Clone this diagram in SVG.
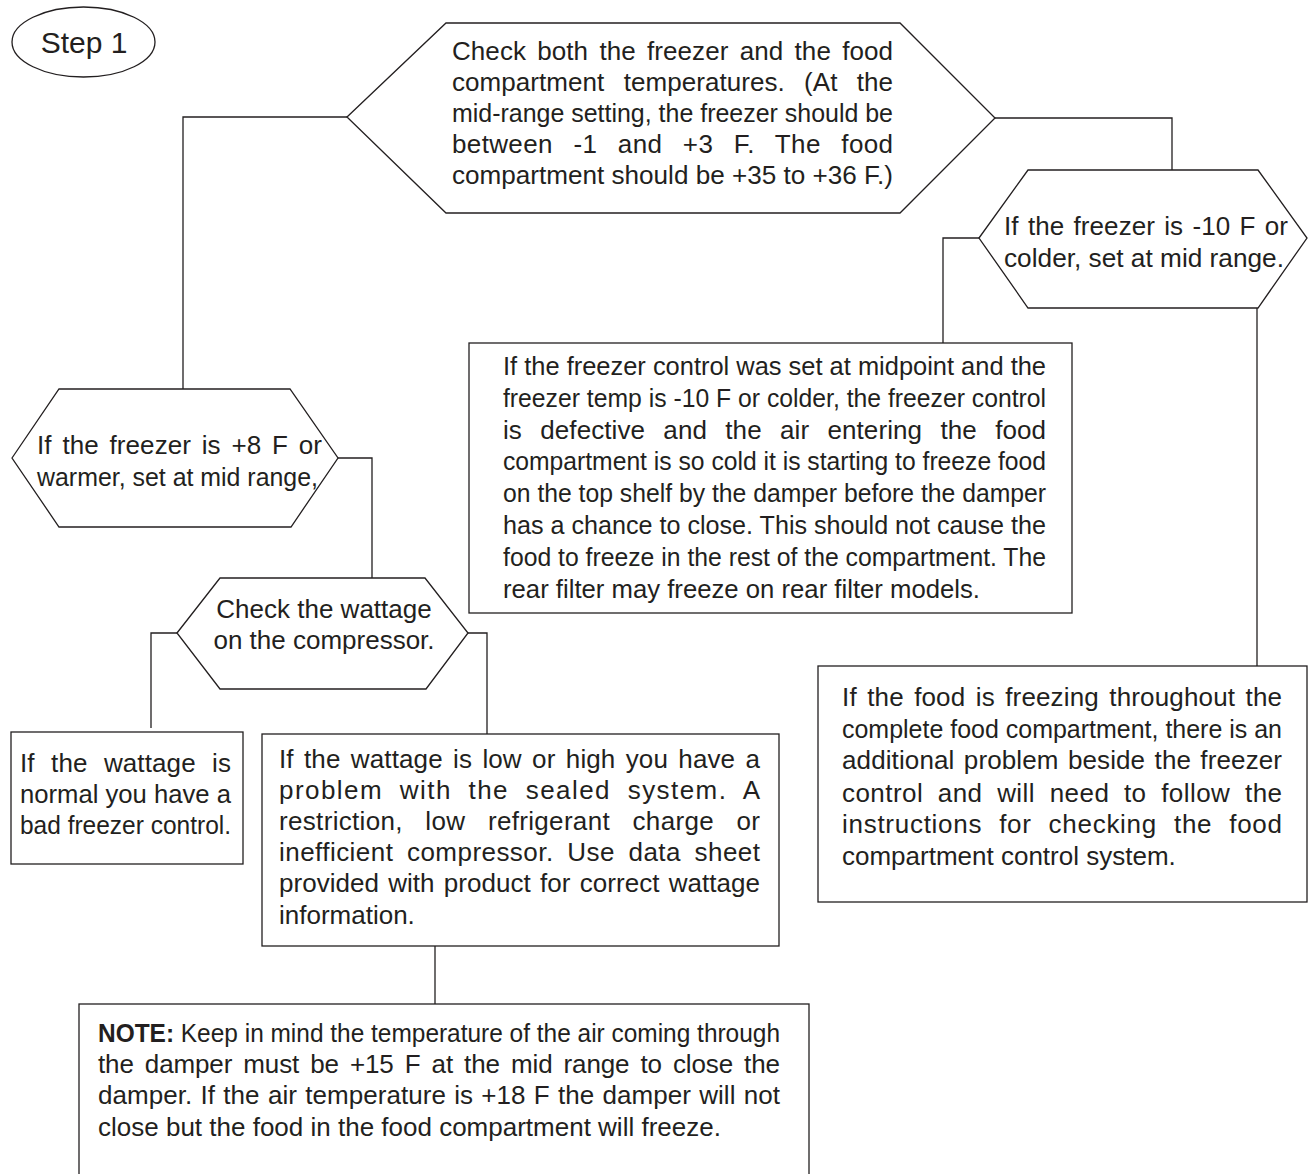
<svg xmlns="http://www.w3.org/2000/svg" width="1308" height="1174" viewBox="0 0 1308 1174">
<style>
.bg{fill:#fff}
.s{fill:#fff;stroke:#231f20;stroke-width:1.3}
.c{fill:none;stroke:#231f20;stroke-width:1.3}
.t{font-family:"Liberation Sans",Arial,Helvetica,sans-serif;font-size:26px;fill:#231f20}
.st{font-family:"Liberation Sans",Arial,Helvetica,sans-serif;font-size:30px;fill:#231f20}
.b{font-weight:bold}
</style>
<rect class="bg" x="0" y="0" width="1308" height="1174"/>
<g id="connectors">
<polyline class="c" points="347,117 183,117 183,389"/>
<polyline class="c" points="995,118 1172,118 1172,170"/>
<polyline class="c" points="979,238 943,238 943,343"/>
<polyline class="c" points="1257,308 1257,666"/>
<polyline class="c" points="338,458 372,458 372,578"/>
<polyline class="c" points="177,633 151,633 151,728"/>
<polyline class="c" points="468,633 487,633 487,734"/>
<polyline class="c" points="435,946 435,1004"/>
</g>
<g id="step1">
<ellipse class="s" cx="83.5" cy="42" rx="71.5" ry="35"/>
<text class="st" x="84" y="53" text-anchor="middle">Step 1</text>
</g>
<g id="check-temps">
<polygon class="s" points="347,117 446,23 900,23 995,118 900,213 446,213"/>
<text class="t" x="452" y="60" word-spacing="4" textLength="441" lengthAdjust="spacing">Check both the freezer and the food</text>
<text class="t" x="452" y="91" word-spacing="12" textLength="441" lengthAdjust="spacing">compartment temperatures. (At the</text>
<text class="t" x="452" y="122" textLength="441" lengthAdjust="spacingAndGlyphs">mid-range setting, the freezer should be</text>
<text class="t" x="452" y="153" word-spacing="13" textLength="441" lengthAdjust="spacing">between -1 and +3 F. The food</text>
<text class="t" x="452" y="184" textLength="441" lengthAdjust="spacingAndGlyphs">compartment should be +35 to +36 F.)</text>
</g>
<g id="freezer-cold">
<polygon class="s" points="979,238 1028,170 1258,170 1307,238 1258,308 1028,308"/>
<text class="t" x="1004" y="235" word-spacing="2" textLength="284" lengthAdjust="spacing">If the freezer is -10 F or</text>
<text class="t" x="1004" y="267" textLength="280" lengthAdjust="spacingAndGlyphs">colder, set at mid range.</text>
</g>
<g id="freezer-warm">
<polygon class="s" points="12,458 59,389 290,389 338,458 291,527 59,527"/>
<text class="t" x="37" y="454" word-spacing="3.5" textLength="285" lengthAdjust="spacing">If the freezer is +8 F or</text>
<text class="t" x="37" y="486" textLength="281" lengthAdjust="spacingAndGlyphs">warmer, set at mid range,</text>
</g>
<g id="check-wattage">
<polygon class="s" points="177,633 220,578 425,578 468,633 426,689 220,689"/>
<text class="t" x="324" y="618" text-anchor="middle">Check the wattage</text>
<text class="t" x="324" y="649" text-anchor="middle">on the compressor.</text>
</g>
<g id="control-defective">
<rect class="s" x="469" y="343" width="603" height="270"/>
<text class="t" x="503" y="375" textLength="543" lengthAdjust="spacingAndGlyphs">If the freezer control was set at midpoint and the</text>
<text class="t" x="503" y="407" textLength="543" lengthAdjust="spacingAndGlyphs">freezer temp is -10 F or colder, the freezer control</text>
<text class="t" x="503" y="439" word-spacing="11" textLength="543" lengthAdjust="spacing">is defective and the air entering the food</text>
<text class="t" x="503" y="470" textLength="543" lengthAdjust="spacingAndGlyphs">compartment is so cold it is starting to freeze food</text>
<text class="t" x="503" y="502" textLength="543" lengthAdjust="spacingAndGlyphs">on the top shelf by the damper before the damper</text>
<text class="t" x="503" y="534" textLength="543" lengthAdjust="spacingAndGlyphs">has a chance to close. This should not cause the</text>
<text class="t" x="503" y="566" textLength="543" lengthAdjust="spacingAndGlyphs">food to freeze in the rest of the compartment. The</text>
<text class="t" x="503" y="598" textLength="477" lengthAdjust="spacingAndGlyphs">rear filter may freeze on rear filter models.</text>
</g>
<g id="wattage-normal">
<rect class="s" x="11" y="732" width="232" height="132"/>
<text class="t" x="20" y="772" word-spacing="9" textLength="211" lengthAdjust="spacing">If the wattage is</text>
<text class="t" x="20" y="803" textLength="211" lengthAdjust="spacingAndGlyphs">normal you have a</text>
<text class="t" x="20" y="834" textLength="211" lengthAdjust="spacingAndGlyphs">bad freezer control.</text>
</g>
<g id="wattage-abnormal">
<rect class="s" x="262" y="734" width="517" height="212"/>
<text class="t" x="279" y="768" word-spacing="3" textLength="481" lengthAdjust="spacing">If the wattage is low or high you have a</text>
<text class="t" x="279" y="799" word-spacing="8" textLength="481" lengthAdjust="spacing">problem with the sealed system. A</text>
<text class="t" x="279" y="830" word-spacing="15" textLength="481" lengthAdjust="spacing">restriction, low refrigerant charge or</text>
<text class="t" x="279" y="861" word-spacing="6" textLength="481" lengthAdjust="spacing">inefficient compressor. Use data sheet</text>
<text class="t" x="279" y="892" word-spacing="2" textLength="481" lengthAdjust="spacing">provided with product for correct wattage</text>
<text class="t" x="279" y="924">information.</text>
</g>
<g id="note">
<rect class="s" x="79" y="1004" width="730" height="200"/>
<text class="t" x="98" y="1042" textLength="682" lengthAdjust="spacingAndGlyphs"><tspan class="b">NOTE:</tspan> Keep in mind the temperature of the air coming through</text>
<text class="t" x="98" y="1073" word-spacing="4" textLength="682" lengthAdjust="spacing">the damper must be +15 F at the mid range to close the</text>
<text class="t" x="98" y="1104" word-spacing="1" textLength="682" lengthAdjust="spacing">damper. If the air temperature is +18 F the damper will not</text>
<text class="t" x="98" y="1136">close but the food in the food compartment will freeze.</text>
</g>
<g id="food-freezing">
<rect class="s" x="818" y="666" width="489" height="236"/>
<text class="t" x="842" y="706" word-spacing="3" textLength="440" lengthAdjust="spacing">If the food is freezing throughout the</text>
<text class="t" x="842" y="738" textLength="440" lengthAdjust="spacingAndGlyphs">complete food compartment, there is an</text>
<text class="t" x="842" y="769" word-spacing="2" textLength="440" lengthAdjust="spacing">additional problem beside the freezer</text>
<text class="t" x="842" y="802" word-spacing="7" textLength="440" lengthAdjust="spacing">control and will need to follow the</text>
<text class="t" x="842" y="833" word-spacing="9" textLength="440" lengthAdjust="spacing">instructions for checking the food</text>
<text class="t" x="842" y="865">compartment control system.</text>
</g>
</svg>
